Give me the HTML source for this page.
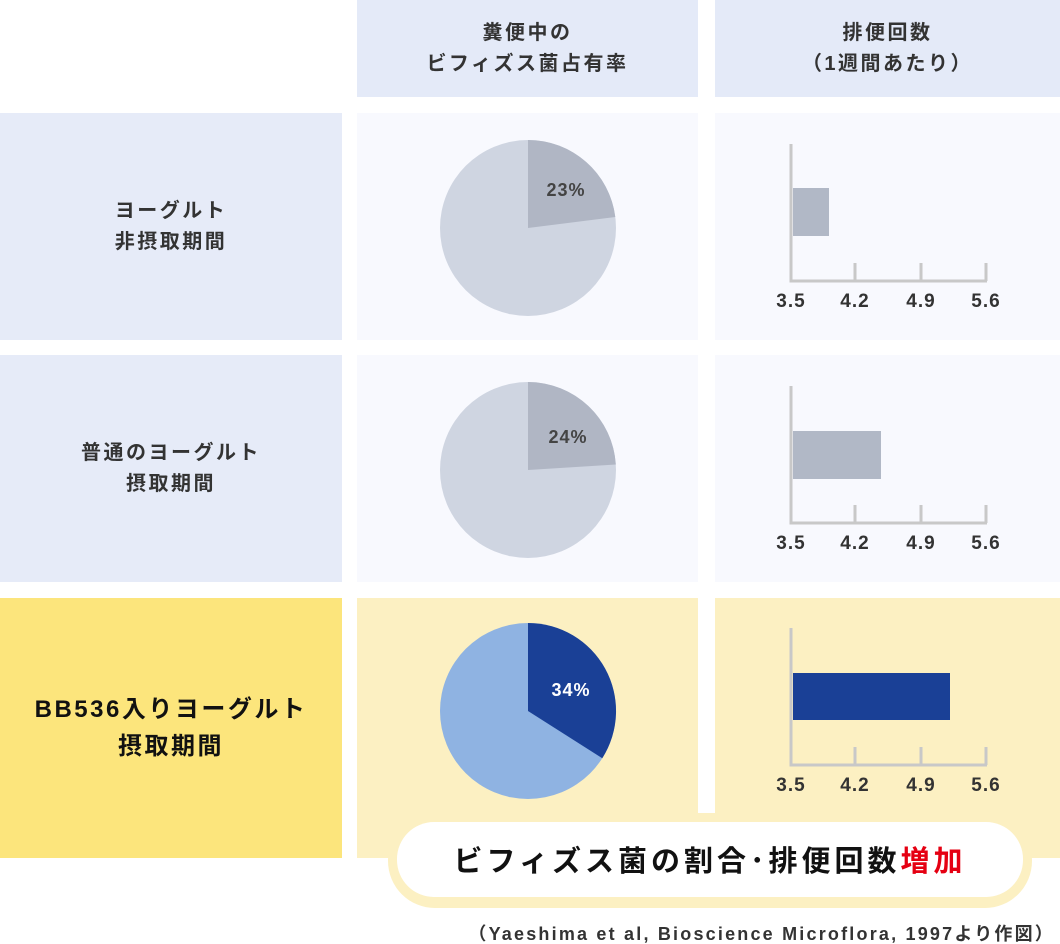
<!DOCTYPE html>
<html><head><meta charset="utf-8"><style>
body{margin:0;width:1060px;height:944px;background:#fff;font-family:"Liberation Sans","Noto Sans CJK JP",sans-serif;position:relative;overflow:hidden}
.c{position:absolute;display:flex;align-items:center;justify-content:center;text-align:center;font-weight:bold;color:#333;font-size:20px;line-height:31px;letter-spacing:2.5px}
</style></head><body>
<div class="c" style="left:357px;top:0;width:341px;height:97px;background:#e4eaf8">糞便中の<br>ビフィズス菌占有率</div>
<div class="c" style="left:715px;top:0;width:345px;height:97px;background:#e4eaf8">排便回数<br>（1週間あたり）</div>
<div class="c" style="left:0;top:113px;width:342px;height:227px;background:#e6ebf8">ヨーグルト<br>非摂取期間</div>
<div class="c" style="left:0;top:355px;width:342px;height:227px;background:#e6ebf8">普通のヨーグルト<br>摂取期間</div>
<div class="c" style="left:0;top:598px;width:342px;height:260px;background:#fce57c;color:#111;font-size:24px;line-height:37px;letter-spacing:2.5px">BB536入りヨーグルト<br>摂取期間</div>
<div style="position:absolute;left:357px;top:113px;width:341px;height:227px;background:#f8f9fe"></div>
<div style="position:absolute;left:715px;top:113px;width:345px;height:227px;background:#f8f9fe"></div>
<div style="position:absolute;left:357px;top:355px;width:341px;height:227px;background:#f8f9fe"></div>
<div style="position:absolute;left:715px;top:355px;width:345px;height:227px;background:#f8f9fe"></div>
<div style="position:absolute;left:357px;top:598px;width:341px;height:260px;background:#fcf0c2"></div>
<div style="position:absolute;left:715px;top:598px;width:345px;height:260px;background:#fcf0c2"></div>
<svg width="1060" height="944" style="position:absolute;left:0;top:0" font-family="Liberation Sans, sans-serif" font-weight="bold">
<circle cx="528" cy="228" r="88" fill="#cfd5e1"/>
<path d="M528 228 L528 140 A88 88 0 0 1 615.3 217 Z" fill="#b0b6c4"/>
<text x="566" y="196" font-size="18" fill="#444" text-anchor="middle" letter-spacing="1">23%</text>
<circle cx="528" cy="470" r="88" fill="#cfd5e1"/>
<path d="M528 470 L528 382 A88 88 0 0 1 615.8 464.5 Z" fill="#b0b6c4"/>
<text x="568" y="443" font-size="18" fill="#444" text-anchor="middle" letter-spacing="1">24%</text>
<circle cx="528" cy="711" r="88" fill="#8fb3e2"/>
<path d="M528 711 L528 623 A88 88 0 0 1 602.3 758.2 Z" fill="#1a4096"/>
<text x="571" y="696" font-size="18" fill="#fff" text-anchor="middle" letter-spacing="1">34%</text>
<g stroke="#c8c8c8" stroke-width="3" fill="none">
<path d="M791 144V281H987M855 263V281M921 263V281M986 263V281"/>
<path d="M791 386V523H987M855 505V523M921 505V523M986 505V523"/>
<path d="M791 628V765H987M855 747V765M921 747V765M986 747V765"/>
</g>
<rect x="793" y="188" width="36" height="48" fill="#b1b8c6"/>
<rect x="793" y="431" width="88" height="48" fill="#b1b8c6"/>
<rect x="793" y="673" width="157" height="47" fill="#1a4096"/>
<g font-size="19" fill="#333" text-anchor="middle" letter-spacing="1">
<text x="791" y="307">3.5</text><text x="855" y="307">4.2</text><text x="921" y="307">4.9</text><text x="986" y="307">5.6</text>
<text x="791" y="549">3.5</text><text x="855" y="549">4.2</text><text x="921" y="549">4.9</text><text x="986" y="549">5.6</text>
<text x="791" y="791">3.5</text><text x="855" y="791">4.2</text><text x="921" y="791">4.9</text><text x="986" y="791">5.6</text>
</g>
<rect x="388" y="813" width="644" height="95" rx="47" fill="#fcf0c2"/>
<rect x="397" y="822" width="626" height="75" rx="37" fill="#fff"/>
<text x="710" y="871" font-size="29" fill="#111" text-anchor="middle" letter-spacing="4" font-family="Liberation Sans, Noto Sans CJK JP, sans-serif">ビフィズス菌の割合･排便回数<tspan fill="#e50012">増加</tspan></text>
<text x="1055" y="940" font-size="18" fill="#333" text-anchor="end" letter-spacing="2.2" font-weight="normal" style="font-weight:600" font-family="Liberation Sans, Noto Sans CJK JP, sans-serif">（Yaeshima et al, Bioscience Microflora, 1997より作図）</text>
</svg>
</body></html>
